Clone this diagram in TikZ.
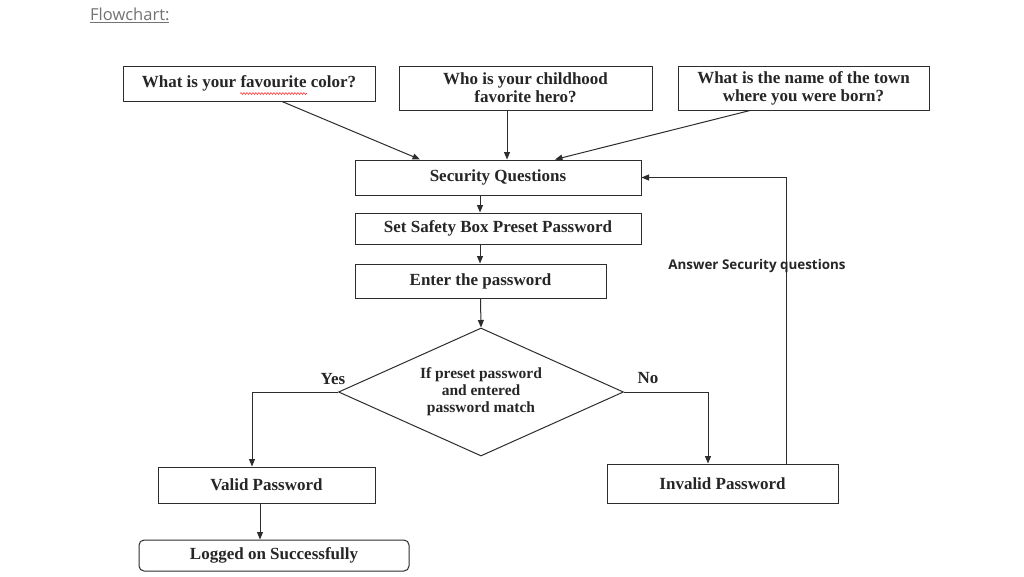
\documentclass[tikz,border=0pt]{standalone}
\usepackage{fontspec}
\setmainfont{Liberation Serif}
\newfontfamily\notefont{Open Sans}
\usetikzlibrary{shapes.geometric,arrows.meta,decorations.pathmorphing}
\definecolor{ink}{RGB}{45,45,45}
\definecolor{capgray}{RGB}{115,115,115}
\tikzset{
  stepbox/.style={rectangle,draw=ink,line width=1pt,inner sep=0pt,align=center,
    text=black!85,font=\fontsize{17}{18}\selectfont\bfseries},
  endbox/.style={stepbox,rounded corners=5pt},
  decbox/.style={diamond,aspect=2.23,draw=ink,line width=1pt,inner sep=0pt,align=center,
    minimum width=285pt,minimum height=128pt,text=black!85,
    font=\fontsize{15.5}{17}\selectfont\bfseries},
  flow/.style={draw=ink,line width=1pt,-{Triangle[length=7.5pt,width=6pt]}},
  spell/.style={draw=red!80,line width=0.6pt,decorate,
    decoration={snake,amplitude=0.9pt,segment length=3pt}},
  branch/.style={font=\fontsize{17}{18}\selectfont\bfseries,text=black!85,inner sep=0pt},
  note/.style={font=\notefont\fontsize{13.4}{15}\selectfont\bfseries,text=black!85,inner sep=0pt}
}

\begin{document}
\begin{tikzpicture}[x=1pt,y=-1pt]
  \useasboundingbox[fill=white] (0,0) rectangle (1024,576);

  \node[font=\notefont\fontsize{16.5}{18}\selectfont,text=capgray,anchor=west,inner sep=0pt] (title) at (90,15) {\underline{Flowchart:}};

  % question boxes
  \node[stepbox,minimum width=252pt,minimum height=35pt] (q1) at (249,83.5) {What is your favourite color?};
  \node[stepbox,minimum width=253pt,minimum height=44pt] (q2) at (525.5,88) {Who is your childhood\\favorite hero?};
  \node[stepbox,minimum width=251pt,minimum height=44pt] (q3) at (803.5,88) {What is the name of the town\\where you were born?};
  \draw[spell] (240,93.5) -- (307,93.5);

  % main column
  \node[stepbox,minimum width=286pt,minimum height=35pt] (secq) at (498,177.5) {Security Questions};
  \node[stepbox,minimum width=286pt,minimum height=31pt] (setpw) at (498,228.5) {Set Safety Box Preset Password};
  \node[stepbox,minimum width=251pt,minimum height=34pt] (enter) at (480.5,281) {Enter the password};
  \node[decbox] (check) at (481,392) {If preset password\\and entered\\password match};
  \node[stepbox,minimum width=217pt,minimum height=36pt] (valid) at (266.5,485) {Valid Password};
  \node[stepbox,minimum width=231pt,minimum height=39pt] (invalid) at (722.5,483.5) {Invalid Password};
  \node[endbox,minimum width=270pt,minimum height=31pt] (logged) at (274,555.5) {Logged on Successfully};

  % connectors
  \draw[flow] ([xshift=33pt]q1.south) -- ([xshift=-78pt]secq.north);
  \draw[flow] ([xshift=9pt]secq.north |- q2.south) -- ([xshift=9pt]secq.north);
  \draw[flow] ([xshift=-53.5pt]q3.south) -- ([xshift=57pt]secq.north);
  \draw[flow] ([xshift=-18pt]secq.south) -- ([xshift=-18pt]setpw.north);
  \draw[flow] ([xshift=-18pt]setpw.south) -- ([xshift=-18pt]setpw.south |- enter.north);
  \draw[flow] (enter.south) -- (check.north);
  \draw[flow] (check.west) -| ([xshift=-14.5pt]valid.north);
  \draw[flow] (check.east) -| ([xshift=-14.5pt]invalid.north);
  \draw[flow] ([xshift=63.5pt]invalid.north) |- (secq.east);
  \draw[flow] ([xshift=-6.5pt]valid.south) -- ([xshift=-6.5pt]valid.south |- logged.north);

  \node[branch] (yes) at (333,379) {Yes};
  \node[branch] (no) at (648,378) {No};
  \node[note] (answer) at (757,266) {Answer Security questions};
\end{tikzpicture}
\end{document}
